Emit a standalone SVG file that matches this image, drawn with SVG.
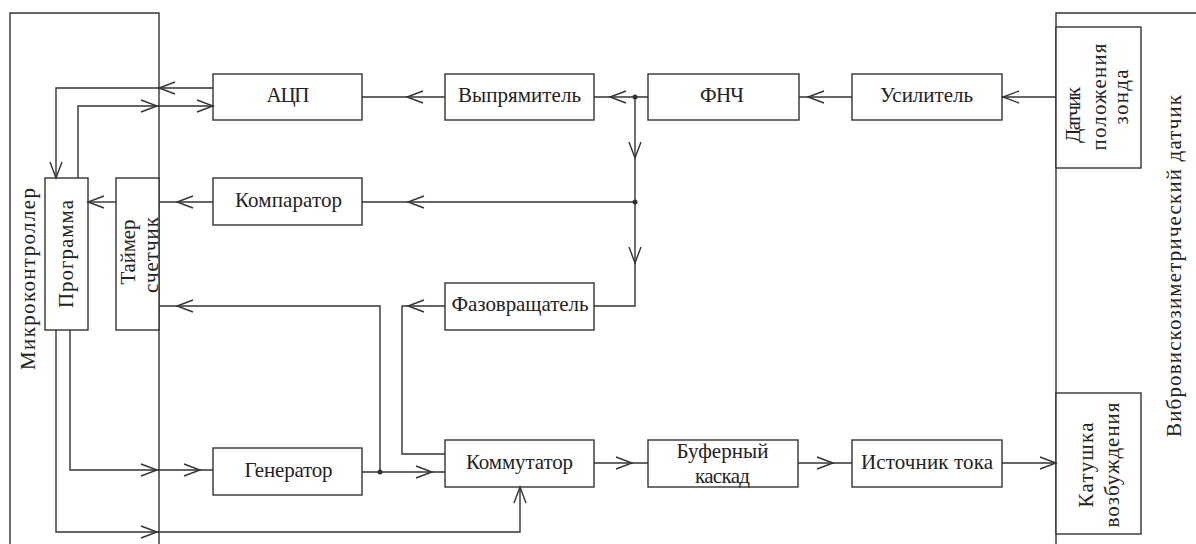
<svg xmlns="http://www.w3.org/2000/svg" xmlns:xlink="http://www.w3.org/1999/xlink" width="1196" height="544" viewBox="0 0 1196 544" font-family="Liberation Serif, DejaVu Serif, Times New Roman, serif">
<style>
.b{fill:#fff;stroke:#333;stroke-width:1.4}
.l{fill:none;stroke:#333;stroke-width:1.4}
text{font-size:21px;fill:#222;text-anchor:middle;dominant-baseline:central}
.d{fill:#333}
</style>
<defs>
<path id="ah" d="M-16,-6 L0,0 L-16,6" fill="none" stroke="#333" stroke-width="1.4"/>
</defs>
<rect width="1196" height="544" fill="#fff"/>
<g id="mc">
<path class="l" d="M10,560 V13 H159 V560"/>
<text transform="translate(28,279) rotate(-90)" textLength="182" lengthAdjust="spacing">Микроконтроллер</text>
</g>
<g id="sensor">
<path class="l" d="M1200,13 H1056 V560"/>
<text transform="translate(1174,266) rotate(-90)" textLength="342" lengthAdjust="spacing">Вибровискозиметрический датчик</text>
</g>
<g id="prog">
<rect class="b" x="45" y="178" width="43" height="152"/>
<text transform="translate(66,254) rotate(-90)" textLength="108" lengthAdjust="spacing">Программа</text>
</g>
<g id="timer">
<rect class="b" x="116" y="178" width="43" height="152"/>
<text transform="translate(128,252) rotate(-90)" textLength="65" lengthAdjust="spacing">Таймер</text>
<text transform="translate(151,255) rotate(-90)" textLength="76" lengthAdjust="spacing">счетчик</text>
</g>
<g id="adc">
<rect class="b" x="213" y="74" width="149" height="46"/>
<text x="288" y="95" textLength="43" lengthAdjust="spacing">АЦП</text>
</g>
<g id="rect">
<rect class="b" x="445" y="74" width="149" height="46"/>
<text x="519.5" y="95" textLength="123" lengthAdjust="spacing">Выпрямитель</text>
</g>
<g id="lpf">
<rect class="b" x="648" y="74" width="151" height="46"/>
<text x="722" y="95" textLength="44" lengthAdjust="spacing">ФНЧ</text>
</g>
<g id="amp">
<rect class="b" x="852" y="74" width="150" height="46"/>
<text x="926.5" y="95" textLength="93" lengthAdjust="spacing">Усилитель</text>
</g>
<g id="probe">
<rect class="b" x="1056" y="27" width="85" height="141"/>
<text transform="translate(1073,115) rotate(-90)" textLength="56" lengthAdjust="spacing">Датчик</text>
<text transform="translate(1099,97) rotate(-90)" textLength="107" lengthAdjust="spacing">положения</text>
<text transform="translate(1121,97) rotate(-90)" textLength="55" lengthAdjust="spacing">зонда</text>
</g>
<g id="comp">
<rect class="b" x="213" y="178" width="149" height="47"/>
<text x="288.5" y="199.5" textLength="107" lengthAdjust="spacing">Компаратор</text>
</g>
<g id="phase">
<rect class="b" x="445" y="283" width="149" height="47"/>
<text x="520" y="304" textLength="137" lengthAdjust="spacing">Фазовращатель</text>
</g>
<g id="gen">
<rect class="b" x="213" y="448" width="149" height="47"/>
<text x="288.5" y="469.5" textLength="88" lengthAdjust="spacing">Генератор</text>
</g>
<g id="sw">
<rect class="b" x="445" y="440" width="149" height="47"/>
<text x="519.5" y="461.5" textLength="107" lengthAdjust="spacing">Коммутатор</text>
</g>
<g id="buf">
<rect class="b" x="648" y="440" width="150" height="47"/>
<text x="722.5" y="451" textLength="92" lengthAdjust="spacing">Буферный</text>
<text x="722.5" y="476" textLength="55" lengthAdjust="spacing">каскад</text>
</g>
<g id="cur">
<rect class="b" x="852" y="440" width="150" height="47"/>
<text x="927" y="461.5" textLength="132" lengthAdjust="spacing">Источник тока</text>
</g>
<g id="coil">
<rect class="b" x="1056" y="393" width="85" height="141"/>
<text transform="translate(1086,465) rotate(-90)" textLength="85" lengthAdjust="spacing">Катушка</text>
<text transform="translate(1112,465) rotate(-90)" textLength="125" lengthAdjust="spacing">возбуждения</text>
</g>
<g id="connectors">
<path class="l" d="M213,88 H56 V178"/>
<path class="l" d="M78,178 V106 H213"/>
<path class="l" d="M362,97 H445"/>
<path class="l" d="M594,97 H648"/>
<path class="l" d="M799,97 H852"/>
<path class="l" d="M1002,97 H1056"/>
<path class="l" d="M635,97 V306 H594"/>
<path class="l" d="M635,202 H362"/>
<path class="l" d="M213,202 H159"/>
<path class="l" d="M116,202 H88"/>
<path class="l" d="M159,306 H380 V472"/>
<path class="l" d="M445,306 H402 V454 H445"/>
<path class="l" d="M70,330 V470 H213"/>
<path class="l" d="M362,472 H445"/>
<path class="l" d="M56,330 V532 H520 V487"/>
<path class="l" d="M594,463 H648"/>
<path class="l" d="M798,463 H852"/>
<path class="l" d="M1002,463 H1056"/>
<circle class="d" cx="635" cy="97" r="2.5"/>
<circle class="d" cx="635" cy="202" r="2.5"/>
<circle class="d" cx="380" cy="472" r="2.5"/>
<use xlink:href="#ah" transform="translate(159,88) rotate(180)"/>
<use xlink:href="#ah" transform="translate(56,178) rotate(90)"/>
<use xlink:href="#ah" transform="translate(157,106)"/>
<use xlink:href="#ah" transform="translate(213,106)"/>
<use xlink:href="#ah" transform="translate(407,97) rotate(180)"/>
<use xlink:href="#ah" transform="translate(610,97) rotate(180)"/>
<use xlink:href="#ah" transform="translate(808,97) rotate(180)"/>
<use xlink:href="#ah" transform="translate(1003,97) rotate(180)"/>
<use xlink:href="#ah" transform="translate(635,158) rotate(90)"/>
<use xlink:href="#ah" transform="translate(635,263) rotate(90)"/>
<use xlink:href="#ah" transform="translate(408,202) rotate(180)"/>
<use xlink:href="#ah" transform="translate(177,202) rotate(180)"/>
<use xlink:href="#ah" transform="translate(88,202) rotate(180)"/>
<use xlink:href="#ah" transform="translate(177,306) rotate(180)"/>
<use xlink:href="#ah" transform="translate(408,306) rotate(180)"/>
<use xlink:href="#ah" transform="translate(157,470)"/>
<use xlink:href="#ah" transform="translate(200,470)"/>
<use xlink:href="#ah" transform="translate(432,472)"/>
<use xlink:href="#ah" transform="translate(157,532)"/>
<use xlink:href="#ah" transform="translate(520,487) rotate(-90)"/>
<use xlink:href="#ah" transform="translate(632,463)"/>
<use xlink:href="#ah" transform="translate(833,463)"/>
<use xlink:href="#ah" transform="translate(1056,463)"/>
</g>
</svg>
